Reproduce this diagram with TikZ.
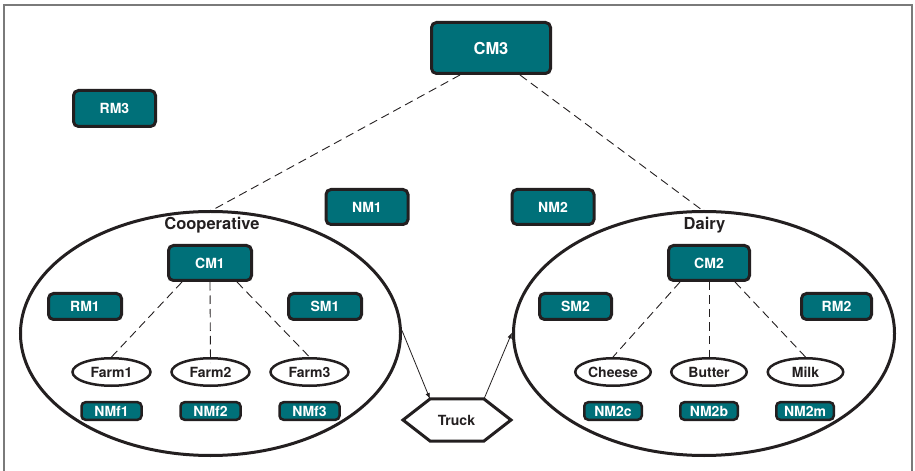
\documentclass[tikz,border=0pt]{standalone}
\usepackage{fontspec}
\setmainfont{TeX Gyre Heros}
\usetikzlibrary{shapes.geometric,arrows.meta}
\definecolor{teal1}{HTML}{007079}
\definecolor{ink}{HTML}{231F20}
\definecolor{framegray}{HTML}{7A7A7A}
\newcommand\txtsize[1]{\fontsize{#1bp}{#1bp}\selectfont\bfseries}
\begin{document}
\begin{tikzpicture}[x=1bp,y=-1bp,
  mgr/.style={draw=ink, fill=teal1, line width=3bp, rounded corners=5bp,
    text=white, font=\txtsize{14}, inner sep=0pt},
  bigmgr/.style={mgr, minimum width=119bp, minimum height=51bp, font=\txtsize{16.5}},
  midmgr/.style={mgr, minimum width=82bp, minimum height=35bp},
  smallmgr/.style={mgr, minimum width=73bp, minimum height=26bp},
  tinymgr/.style={mgr, line width=2.5bp, rounded corners=4bp,
    minimum width=60bp, minimum height=17.5bp},
  unit/.style={draw=ink, ellipse, line width=2.5bp, inner sep=0pt,
    minimum width=78bp, minimum height=27.5bp, text=ink, font=\txtsize{14}},
  group/.style={draw=ink, ellipse, line width=3bp, inner sep=0pt,
    minimum width=380bp, minimum height=244bp},
  grouplabel/.style={text=ink, font=\txtsize{16.5}, inner sep=0pt},
  link/.style={draw=ink, line width=0.9bp, dash pattern=on 8.5bp off 5bp},
  flow/.style={draw=ink, line width=0.8bp, -{Latex[length=6bp,width=4.5bp]}}
]
\useasboundingbox (0,0) rectangle (915,471);

% outer frame
\draw[framegray, line width=1.2bp] (4,471) -- (4,5) -- (912,5) -- (912,471);

% groups
\node[group] (coop)  at (210.5,333.5) {};
\node[group, minimum width=381bp] (dairy) at (704,333.5) {};
\node[grouplabel] (cooplbl)  at (212,225) {Cooperative};
\node[grouplabel] (dairylbl) at (704.5,225) {Dairy};

% top level managers
\node[bigmgr] (cm3) at (491,48) {CM3};
\node[midmgr, minimum height=36bp] (rm3) at (114.5,108.5) {RM3};
\node[midmgr] (nm1) at (367,207) {NM1};
\node[midmgr] (nm2) at (553,207) {NM2};

% cooperative
\node[midmgr, minimum width=83bp] (cm1) at (210,263) {CM1};
\node[smallmgr] (rm1) at (85,306.5) {RM1};
\node[smallmgr] (sm1) at (325,306.5) {SM1};
\node[unit] (farm1) at (111.5,372) {Farm1};
\node[unit] (farm2) at (210.5,372) {Farm2};
\node[unit] (farm3) at (309.5,372) {Farm3};
\node[tinymgr] (nmf1) at (111.5,411) {NMf1};
\node[tinymgr] (nmf2) at (210.5,411) {NMf2};
\node[tinymgr] (nmf3) at (309.5,411) {NMf3};

% dairy
\node[midmgr, minimum width=81bp] (cm2) at (709,263) {CM2};
\node[smallmgr, minimum width=72bp] (sm2) at (575.5,306.5) {SM2};
\node[smallmgr, minimum width=70bp] (rm2) at (836.5,306.5) {RM2};
\node[unit, minimum width=75.5bp] (cheese) at (613,372) {Cheese};
\node[unit, minimum width=75.5bp] (butter) at (709,372) {Butter};
\node[unit, minimum width=75.5bp] (milk)   at (805.5,372) {Milk};
\node[tinymgr, minimum width=57.5bp] (nm2c) at (613,411) {NM2c};
\node[tinymgr, minimum width=57.5bp] (nm2b) at (709,411) {NM2b};
\node[tinymgr, minimum width=57.5bp] (nm2m) at (805,411) {NM2m};

% truck hexagon
\coordinate (tl) at (430,399);
\coordinate (tr) at (484,399);
\coordinate (te) at (511,420);
\coordinate (br) at (484,441);
\coordinate (bl) at (430,441);
\coordinate (tw) at (403,420);
\draw[ink, line width=3bp, line join=miter] (tw) -- (tl) -- (tr) -- (te) -- (br) -- (bl) -- cycle;
\node[text=ink, font=\txtsize{14}, inner sep=0pt] (truck) at (456.5,420) {Truck};

% coordination links
\draw[link] ([xshift=-31bp]cm3.south) -- ([xshift=2bp]coop.north);
\draw[link] ([xshift=29bp]cm3.south) -- ([xshift=-2bp]dairy.north);
\draw[link] ([xshift=-28bp]cm1.south) -- (farm1.north);
\draw[link] (cm1.south) -- ([yshift=-6bp]farm2.north);
\draw[link] ([xshift=27bp]cm1.south) -- (farm3.north);
\draw[link] ([xshift=-29bp]cm2.south) -- (cheese.north);
\draw[link] (cm2.south) -- ([yshift=-6bp]butter.north);
\draw[link] ([xshift=26bp]cm2.south) -- (milk.north);

% material flow
\draw[flow] ([yshift=3bp]coop.east) -- (tl);
\draw[flow] (tr) -- ([yshift=1bp]dairy.west);
\end{tikzpicture}
\end{document}
